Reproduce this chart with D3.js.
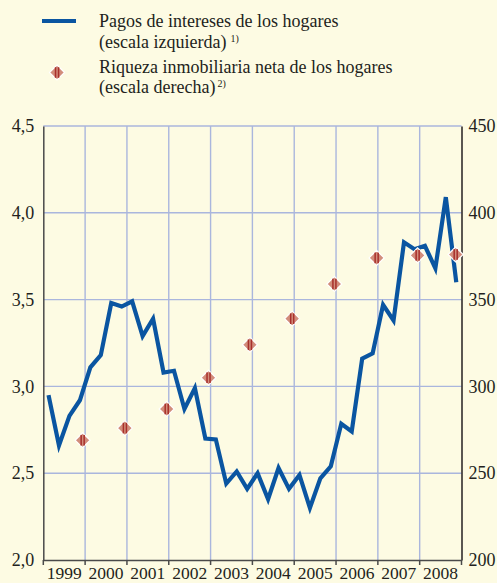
<!DOCTYPE html>
<html>
<head>
<meta charset="utf-8">
<script src="https://cdn.jsdelivr.net/npm/d3@7"></script>
<style>
  html, body { margin: 0; padding: 0; background: #fdfbe3; }
  svg { display: block; }
  text { font-family: "Liberation Serif", "Times New Roman", serif; fill: #231f20; }
</style>
</head>
<body>
<svg id="chart" width="497" height="583"></svg>
<script>
// Household interest payments, quarterly 1999 Q1 – 2008 Q4 (left scale)
const years = [1999, 2000, 2001, 2002, 2003, 2004, 2005, 2006, 2007, 2008];
const interestPayments = [
  2.95, 2.66, 2.83, 2.92,   // 1999
  3.11, 3.18, 3.48, 3.46,   // 2000
  3.49, 3.29, 3.39, 3.08,   // 2001
  3.09, 2.87, 2.99, 2.70,   // 2002
  2.695, 2.44, 2.51, 2.41,  // 2003
  2.50, 2.35, 2.53, 2.41,   // 2004
  2.49, 2.30, 2.47, 2.54,   // 2005
  2.785, 2.74, 3.16, 3.19,  // 2006
  3.47, 3.38, 3.83, 3.79,   // 2007
  3.81, 3.68, 4.09, 3.60    // 2008
];
// Household net housing wealth, end of year (right scale)
const wealthDates = [1999.94, 2000.95, 2001.95, 2002.95, 2003.94, 2004.95, 2005.96, 2006.97, 2007.95, 2008.86];
const housingWealth = [269, 276, 287, 305, 324, 339, 359, 374, 375.5, 376];

const leftTicks = [2.0, 2.5, 3.0, 3.5, 4.0, 4.5];
const leftTickLabels = ["2,0", "2,5", "3,0", "3,5", "4,0", "4,5"];
const rightTicks = [200, 250, 300, 350, 400, 450];
const rightTickLabels = ["200", "250", "300", "350", "400", "450"];

const legendLabels = [
  ["Pagos de intereses de los hogares", "(escala izquierda)", "1)"],
  ["Riqueza inmobiliaria neta de los hogares", "(escala derecha)", "2)"]
];

const svg = d3.select("#chart");
const plotLeft = 43.3, plotRight = 461.5, plotTop = 126, plotBottom = 560;

const x = d3.scaleLinear().domain([1999, 2009]).range([plotLeft, plotRight]);
const yL = d3.scaleLinear().domain([2, 4.5]).range([plotBottom, plotTop]);
const yR = d3.scaleLinear().domain([200, 450]).range([plotBottom, plotTop]);

const gridColor = "#aab6dd";

// horizontal grid
svg.append("g").selectAll("line").data(leftTicks.filter(v => v > 2))
  .join("line")
  .attr("x1", plotLeft).attr("x2", plotRight)
  .attr("y1", d => yL(d)).attr("y2", d => yL(d))
  .attr("stroke", gridColor).attr("stroke-width", 1.4);

// vertical grid at year boundaries
svg.append("g").selectAll("line").data(years.slice(1))
  .join("line")
  .attr("x1", d => x(d)).attr("x2", d => x(d))
  .attr("y1", plotTop).attr("y2", plotBottom)
  .attr("stroke", gridColor).attr("stroke-width", 1.4);

// left axis
const leftAxis = d3.axisLeft(yL).tickValues(leftTicks)
  .tickFormat((d, i) => leftTickLabels[i]).tickSize(0).tickPadding(9);
const gL = svg.append("g").attr("transform", `translate(${plotLeft},0)`).call(leftAxis);
gL.select(".domain").attr("stroke", "#4a4a4a").attr("stroke-width", 1.5);
gL.selectAll("text").style("font-size", "18px").style("font-family", "Liberation Serif, serif").attr("fill", "#231f20");

// right axis
const rightAxis = d3.axisRight(yR).tickValues(rightTicks)
  .tickFormat((d, i) => rightTickLabels[i]).tickSize(0).tickPadding(7);
const gR = svg.append("g").attr("transform", `translate(${plotRight},0)`).call(rightAxis);
gR.select(".domain").attr("stroke", "#231f20").attr("stroke-width", 1.5);
gR.selectAll("text").style("font-size", "18px").style("font-family", "Liberation Serif, serif").attr("fill", "#231f20");

// bottom axis with ticks at year boundaries and labels centred in each year
const gB = svg.append("g");
gB.append("line").attr("x1", plotLeft).attr("x2", plotRight).attr("y1", plotBottom + 0.5).attr("y2", plotBottom + 0.5)
  .attr("stroke", "#4a4a4a").attr("stroke-width", 1.5);
gB.selectAll("line.tick").data(years.concat([2009]))
  .join("line").attr("class", "tick")
  .attr("x1", d => x(d)).attr("x2", d => x(d))
  .attr("y1", plotBottom).attr("y2", plotBottom + 5)
  .attr("stroke", "#4a4a4a").attr("stroke-width", 1.5);
gB.selectAll("text").data(years)
  .join("text")
  .attr("x", d => x(d + 0.5)).attr("y", 579)
  .attr("text-anchor", "middle")
  .style("font-size", "17.5px")
  .text(d => d);

// interest payments line
const lineColor = "#0a55a1";
const line = d3.line()
  .x((d, i) => x(1999 + (i + 0.5) / 4))
  .y(d => yL(d));
svg.append("path").datum(interestPayments)
  .attr("d", line)
  .attr("fill", "none")
  .attr("stroke", lineColor)
  .attr("stroke-width", 4.2)
  .attr("stroke-linejoin", "miter");

// diamond marker
function diamond(g, cx, cy, r) {
  const pts = `${cx},${cy - r} ${cx + r},${cy} ${cx},${cy + r} ${cx - r},${cy}`;
  g.append("polygon").attr("points", pts)
    .attr("fill", "#d28d7b").attr("stroke", "#ffffff").attr("stroke-width", 1.2);
  g.append("rect").attr("x", cx - 2.2).attr("y", cy - r + 2.2).attr("width", 1.5).attr("height", 2 * r - 4.4)
    .attr("fill", "#a8302c");
  g.append("rect").attr("x", cx + 0.8).attr("y", cy - r + 2.2).attr("width", 1.5).attr("height", 2 * r - 4.4)
    .attr("fill", "#a8302c");
}
const gD = svg.append("g");
housingWealth.forEach((v, i) => diamond(gD, x(wealthDates[i]), yR(v), 7.5));

// legend
const leg = svg.append("g");
leg.append("line").attr("x1", 42).attr("x2", 76).attr("y1", 21).attr("y2", 21)
  .attr("stroke", lineColor).attr("stroke-width", 4);
diamond(leg, 57, 72.5, 7.5);
const rows = [[27, 48], [73, 93]];
legendLabels.forEach((lab, i) => {
  leg.append("text").attr("x", 99).attr("y", rows[i][0]).style("font-size", "18px").text(lab[0]);
  const t = leg.append("text").attr("x", 99).attr("y", rows[i][1]).style("font-size", "18px");
  t.append("tspan").text(lab[1]);
  t.append("tspan").attr("dx", i === 0 ? 4 : 2).attr("dy", -6).style("font-size", "10px").text(lab[2]);
});
</script>
</body>
</html>
